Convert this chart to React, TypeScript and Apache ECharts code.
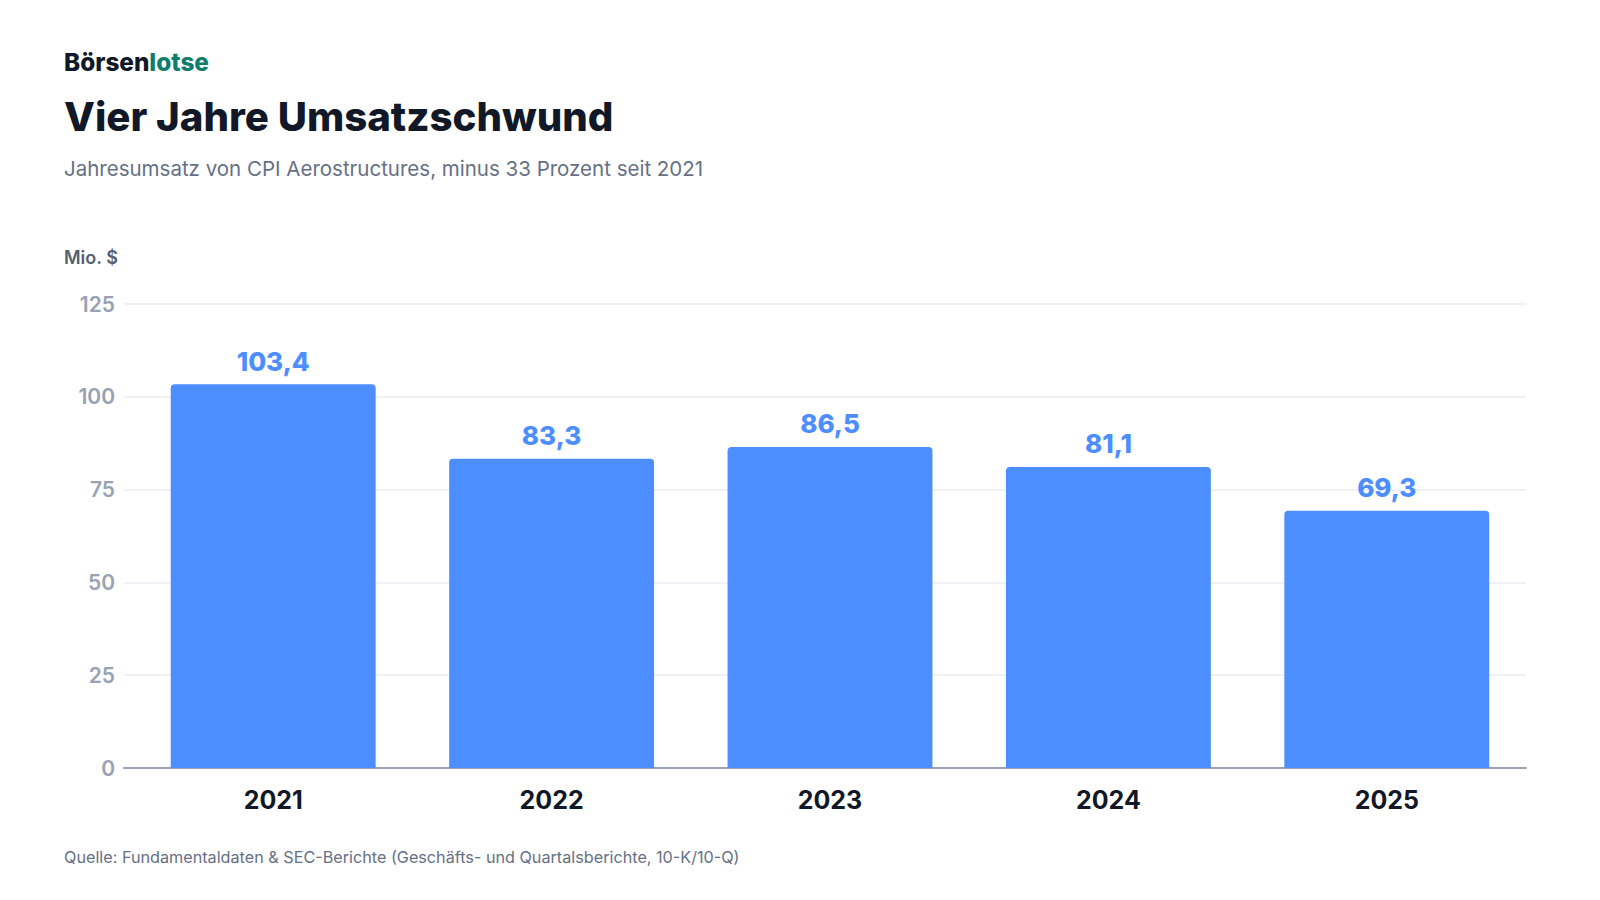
import * as echarts from "echarts";
import { useEffect, useRef } from "react";

const years = ["2021", "2022", "2023", "2024", "2025"];
const revenue = [103.4, 83.3, 86.5, 81.1, 69.3];
const yTicks = { min: 0, max: 125, interval: 25 };

const FONT = "Inter, 'Noto Sans', sans-serif";
const dark = "#111827";
const barBlue = "#4d8eff";
const muted = "#667085";

function formatDe(value: number) {
  return value.toFixed(1).replace(".", ",");
}

export default function App() {
  const elementRef = useRef<HTMLDivElement | null>(null);

  useEffect(() => {
    if (!elementRef.current) {
      return;
    }
    const chart = echarts.init(elementRef.current, undefined, { renderer: "svg" });
    chart.setOption({
      animation: false,
      backgroundColor: "#ffffff",
      textStyle: { fontFamily: FONT },
      title: [
        {
          text: "{a|Börsen}{b|lotse}",
          left: 64,
          top: 50,
          padding: 0,
          textStyle: {
            rich: {
              a: { fontFamily: FONT, fontSize: 24.3, fontWeight: 800, color: dark },
              b: { fontFamily: FONT, fontSize: 24.3, fontWeight: 800, color: "#0f7d6b" }
            }
          }
        },
        {
          text: "Vier Jahre Umsatzschwund",
          left: 64,
          top: 96.5,
          padding: 0,
          textStyle: { fontFamily: FONT, fontSize: 40.2, fontWeight: 800, color: dark }
        },
        {
          text: "Jahresumsatz von CPI Aerostructures, minus 33 Prozent seit 2021",
          left: 64,
          top: 158,
          padding: 0,
          textStyle: { fontFamily: FONT, fontSize: 20.5, fontWeight: 400, color: muted }
        },
        {
          text: "Mio. $",
          left: 64,
          top: 248,
          padding: 0,
          textStyle: { fontFamily: FONT, fontSize: 18, fontWeight: 600, color: "#555e6e" }
        },
        {
          text: "Quelle: Fundamentaldaten & SEC-Berichte (Geschäfts- und Quartalsberichte, 10-K/10-Q)",
          left: 64,
          top: 849,
          padding: 0,
          textStyle: { fontFamily: FONT, fontSize: 16.2, fontWeight: 400, color: muted }
        }
      ],
      // grid 0 carries the value axis and gridlines, grid 1 the bars (slightly inset)
      grid: [
        { left: 124, right: 74, top: 304, bottom: 132 },
        { left: 134, right: 74, top: 304, bottom: 132 }
      ],
      xAxis: [
        {
          type: "category",
          gridIndex: 0,
          data: years,
          axisTick: { show: false },
          axisLabel: { show: false },
          axisLine: { lineStyle: { color: "#98a2b3", width: 2 } }
        },
        {
          type: "category",
          gridIndex: 1,
          data: years,
          axisTick: { show: false },
          axisLine: { show: false },
          axisLabel: {
            margin: 19,
            fontFamily: FONT,
            fontSize: 25,
            fontWeight: 700,
            color: dark
          }
        }
      ],
      yAxis: [
        {
          type: "value",
          gridIndex: 0,
          min: yTicks.min,
          max: yTicks.max,
          interval: yTicks.interval,
          axisLine: { show: false },
          axisTick: { show: false },
          axisLabel: {
            margin: 9,
            fontFamily: FONT,
            fontSize: 21,
            fontWeight: 600,
            color: "#98a2b3"
          },
          splitLine: { lineStyle: { color: "#eaecf0", width: 1.5 } }
        },
        {
          type: "value",
          gridIndex: 1,
          min: yTicks.min,
          max: yTicks.max,
          interval: yTicks.interval,
          show: false,
          splitLine: { show: false }
        }
      ],
      series: [
        {
          type: "bar",
          xAxisIndex: 1,
          yAxisIndex: 1,
          data: revenue,
          barWidth: "73.6%",
          itemStyle: { color: barBlue, borderRadius: [4, 4, 0, 0] },
          label: {
            show: true,
            position: "top",
            distance: 10,
            formatter: (p: { value: number }) => formatDe(p.value),
            fontFamily: FONT,
            fontSize: 26,
            fontWeight: 800,
            color: barBlue
          }
        }
      ]
    });
    return () => {
      chart.dispose();
    };
  }, []);

  return (
    <div style={{ position: "fixed", left: 0, top: 0, width: 1600, height: 900, background: "#fff" }}>
      <div ref={elementRef} style={{ width: 1600, height: 900 }} />
    </div>
  );
}
